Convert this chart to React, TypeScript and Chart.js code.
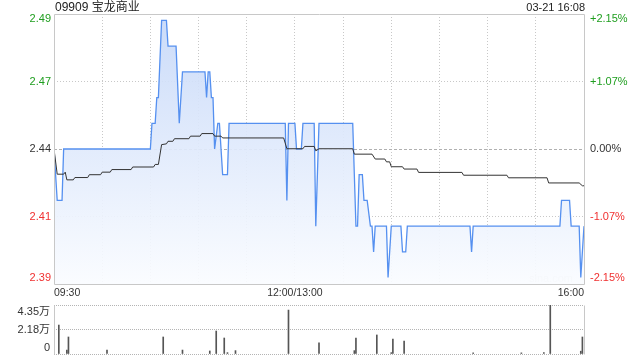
import React, { useEffect, useRef } from 'react';
import { Chart, registerables } from 'chart.js';

Chart.register(...registerables);

const FONT = '"Liberation Sans", Arial, "Noto Sans CJK SC", sans-serif';
const GREEN = '#1f9e1f';
const RED = '#f03030';
const DARK = '#333333';

const TITLE = '09909 宝龙商业';
const DATE_TEXT = '03-21 16:08';
const WATERMARK = 'sina.com';

// trading minutes since 09:30 (lunch break removed), 0..330
const timeTicks = [0, 30, 60, 90, 120, 150, 180, 210, 240, 270, 300, 330];
const timeLabels = ['09:30', '', '', '', '', '12:00/13:00', '', '', '', '', '', '16:00'];

const priceTickValues = [2.3875, 2.41375, 2.44, 2.46625, 2.4925];
const priceTickLabels = ['2.39', '2.41', '2.44', '2.47', '2.49'];
const pctTickLabels = ['-2.15%', '-1.07%', '0.00%', '+1.07%', '+2.15%'];

const priceMinutes = [
  0, 2, 5, 6, 60, 61, 63, 64, 65, 67, 70, 71, 76, 78, 80, 94, 95, 96, 97, 98, 99, 100,
  102, 103, 105, 108, 109, 144, 145, 146, 150, 151, 154, 155, 162, 163, 165, 186, 188,
  189, 190, 192, 193, 195, 197, 198, 199, 200, 207, 208, 210, 216, 217, 219, 220, 259,
  260, 261, 315, 316, 321, 322, 327, 328, 330,
];
const priceValues = [
  2.44, 2.42, 2.42, 2.44, 2.44, 2.45, 2.45, 2.46, 2.46, 2.49, 2.49, 2.48, 2.48, 2.45, 2.47,
  2.47, 2.46, 2.47, 2.47, 2.46, 2.46, 2.44, 2.45, 2.45, 2.43, 2.43, 2.45, 2.45, 2.42, 2.45,
  2.45, 2.44, 2.44, 2.45, 2.45, 2.41, 2.45, 2.45, 2.41, 2.41, 2.43, 2.43, 2.42, 2.42, 2.41,
  2.41, 2.40, 2.41, 2.41, 2.39, 2.41, 2.41, 2.40, 2.40, 2.41, 2.41, 2.40, 2.41, 2.41, 2.42,
  2.42, 2.41, 2.41, 2.39, 2.41,
];

const avgMinutes = [
  0, 2, 6, 7, 8, 12, 13, 21, 22, 29, 30, 35, 36, 48, 49, 62, 63, 65, 67, 70, 71, 74, 75,
  84, 85, 91, 92, 99, 100, 104, 105, 143, 145, 155, 156, 162, 163, 165, 186, 187, 198,
  200, 206, 207, 209, 210, 217, 218, 226, 227, 254, 255, 282, 283, 307, 308, 327, 329, 330,
];
const avgValues = [
  2.44, 2.4302, 2.4302, 2.431, 2.428, 2.428, 2.4289, 2.4289, 2.43, 2.43, 2.431, 2.431,
  2.432, 2.432, 2.433, 2.433, 2.434, 2.434, 2.4417, 2.442, 2.443, 2.443, 2.444, 2.444,
  2.445, 2.445, 2.446, 2.446, 2.445, 2.445, 2.4443, 2.4443, 2.4401, 2.4401, 2.441, 2.441,
  2.4393, 2.4401, 2.4401, 2.438, 2.438, 2.4361, 2.4361, 2.435, 2.435, 2.4331, 2.4331,
  2.4322, 2.4322, 2.4309, 2.4309, 2.4298, 2.4298, 2.4288, 2.4288, 2.4268, 2.4268, 2.4257,
  2.4257,
];

const volMinutes = [
  3, 8, 9, 33, 68, 80, 97, 101, 106, 108, 113, 146, 165, 187, 188, 201, 210, 211, 218,
  261, 291, 305, 309, 328, 329,
];
const volValues = [
  25700, 3500, 15100, 3500, 15100, 3500, 2700, 20400, 14200, 1200, 3000, 39000, 10000,
  3000, 14200, 16900, 1200, 13300, 11500, 1000, 1000, 1200, 43500, 2500, 15100,
];

const volTickValues = [0, 21750, 43500];
const volTickLabels = ['0', '2.18万', '4.35万'];

const TRANSPARENT = 'rgba(0,0,0,0)';

function framePlugin(id: string, sides: { top: boolean; bottom: boolean; left: boolean; right: boolean }) {
  return {
    id,
    afterDraw(chart: any) {
      const { ctx, chartArea: a } = chart;
      ctx.save();
      ctx.strokeStyle = '#c8c8c8';
      ctx.lineWidth = 1;
      ctx.beginPath();
      const l = a.left + 0.5;
      const r = a.right + 0.5;
      const t = a.top + 0.5;
      const b = a.bottom + 0.5;
      if (sides.top) { ctx.moveTo(l, t); ctx.lineTo(r, t); }
      if (sides.bottom) { ctx.moveTo(l, b); ctx.lineTo(r, b); }
      if (sides.left) { ctx.moveTo(l, t); ctx.lineTo(l, b); }
      if (sides.right) { ctx.moveTo(r, t); ctx.lineTo(r, b); }
      ctx.stroke();
      ctx.restore();
    },
  };
}

const textPlugin = {
  id: 'texts',
  beforeDatasetsDraw(chart: any) {
    const { ctx, chartArea: a } = chart;
    ctx.save();
    ctx.font = `11px ${FONT}`;
    ctx.fillStyle = '#d6d6d6';
    ctx.textAlign = 'right';
    ctx.textBaseline = 'alphabetic';
    ctx.fillText(WATERMARK, a.right - 11, a.bottom - 2);
    ctx.restore();
  },
  afterDraw(chart: any) {
    const { ctx, chartArea: a } = chart;
    ctx.save();
    ctx.fillStyle = '#222';
    ctx.textBaseline = 'middle';
    ctx.textAlign = 'left';
    ctx.font = `12px ${FONT}`;
    ctx.fillText(TITLE, a.left + 1, 8);
    ctx.textAlign = 'right';
    ctx.font = `11px ${FONT}`;
    ctx.fillText(DATE_TEXT, a.right + 1, 8);
    ctx.restore();
  },
};

function edgeLabel(labels: string[], i: number) {
  const last = labels.length - 1;
  if (i === 0) return [labels[i], ''];
  if (i === last) return ['', labels[i]];
  return labels[i];
}

function fixWidth(w: number) {
  return (s: any) => {
    s.width = w;
    s.paddingTop = 0;
    s.paddingBottom = 0;
    s.paddingLeft = 0;
    s.paddingRight = 0;
  };
}

export default function App() {
  const mainRef = useRef<HTMLCanvasElement>(null);
  const volRef = useRef<HTMLCanvasElement>(null);

  useEffect(() => {
    const priceData = priceMinutes.map((m, i) => ({ x: m, y: priceValues[i] }));
    const avgData = avgMinutes.map((m, i) => ({ x: m, y: avgValues[i] }));
    const lastP = priceTickValues.length - 1;

    const priceColor = (c: any) => (c.index <= 1 ? RED : c.index === 2 ? DARK : GREEN);
    const priceFont = (c: any) => ({
      family: FONT,
      size: 11,
      lineHeight: c.index === 0 ? '13px' : c.index === lastP ? '10px' : 1.2,
    });

    const main = new Chart(mainRef.current as HTMLCanvasElement, {
      type: 'line',
      data: {
        datasets: [
          {
            label: 'price',
            data: priceData,
            borderColor: '#5590f0',
            borderWidth: 1.3,
            pointRadius: 0,
            tension: 0,
            fill: 'start',
            order: 2,
            backgroundColor: (c: any) => {
              const { ctx, chartArea } = c.chart;
              if (!chartArea) return TRANSPARENT;
              const g = ctx.createLinearGradient(0, chartArea.top, 0, chartArea.bottom);
              g.addColorStop(0, 'rgba(198,216,248,0.92)');
              g.addColorStop(0.5, 'rgba(224,234,252,0.92)');
              g.addColorStop(1, 'rgba(250,252,255,0.92)');
              return g;
            },
          },
          {
            label: 'avg',
            data: avgData,
            borderColor: '#333',
            borderWidth: 1,
            pointRadius: 0,
            tension: 0,
            fill: false,
            order: 1,
          },
        ],
      },
      options: {
        responsive: false,
        animation: false,
        devicePixelRatio: 1,
        layout: { padding: { top: 14, left: 0, right: 0, bottom: 0 } },
        plugins: { legend: { display: false }, tooltip: { enabled: false } },
        scales: {
          x: {
            type: 'linear',
            min: 0,
            max: 330,
            afterBuildTicks: (s: any) => { s.ticks = timeTicks.map((v) => ({ value: v })); },
            afterFit: (s: any) => {
              s.height = 16;
              s.paddingLeft = 0;
              s.paddingRight = 0;
              s.paddingTop = 0;
              s.paddingBottom = 0;
            },
            grid: {
              drawTicks: false,
              color: (c: any) => (c.index === 0 || c.index === timeTicks.length - 1 ? TRANSPARENT : '#c8c8c8'),
            },
            border: { display: false, dash: [1, 2] },
            ticks: {
              autoSkip: false,
              maxRotation: 0,
              align: 'inner',
              padding: 3,
              color: DARK,
              font: { family: FONT, size: 10.5 },
              callback: (_v: any, i: number) => timeLabels[i],
            },
          },
          y: {
            position: 'left',
            min: priceTickValues[0],
            max: priceTickValues[lastP],
            afterBuildTicks: (s: any) => { s.ticks = priceTickValues.map((v) => ({ value: v })); },
            afterFit: fixWidth(54),
            grid: {
              drawTicks: false,
              color: (c: any) => (c.index === 0 || c.index === lastP ? TRANSPARENT : c.index === 2 ? '#b0b0b0' : '#c8c8c8'),
            },
            border: { display: false, dash: (c: any) => (c.index === 2 ? [3, 2] : [1, 2]) },
            ticks: {
              autoSkip: false,
              padding: 3,
              color: priceColor,
              font: priceFont,
              callback: (_v: any, i: number) => edgeLabel(priceTickLabels, i),
            },
          },
          y1: {
            position: 'right',
            min: priceTickValues[0],
            max: priceTickValues[lastP],
            afterBuildTicks: (s: any) => { s.ticks = priceTickValues.map((v) => ({ value: v })); },
            afterFit: fixWidth(56),
            grid: { drawOnChartArea: false, drawTicks: false },
            border: { display: false },
            ticks: {
              autoSkip: false,
              padding: 6,
              color: priceColor,
              font: priceFont,
              callback: (_v: any, i: number) => edgeLabel(pctTickLabels, i),
            },
          },
        },
      } as any,
      plugins: [framePlugin('mainFrame', { top: true, bottom: true, left: true, right: true }), textPlugin],
    });

    const volData = volMinutes.map((m, i) => ({ x: m, y: volValues[i] }));
    const lastV = volTickValues.length - 1;
    const vol = new Chart(volRef.current as HTMLCanvasElement, {
      type: 'bar',
      data: {
        datasets: [
          {
            label: 'volume',
            data: volData,
            backgroundColor: '#555',
            borderWidth: 0,
            barThickness: 1,
          },
        ],
      },
      options: {
        responsive: false,
        animation: false,
        devicePixelRatio: 1,
        layout: { padding: { top: 5, left: 0, right: 56, bottom: 6 } },
        plugins: { legend: { display: false }, tooltip: { enabled: false } },
        scales: {
          x: { type: 'linear', min: 0, max: 330, display: false, offset: false },
          y: {
            position: 'left',
            min: volTickValues[0],
            max: volTickValues[lastV],
            afterBuildTicks: (s: any) => { s.ticks = volTickValues.map((v) => ({ value: v })); },
            afterFit: fixWidth(54),
            grid: { drawTicks: false, color: '#b4b4b4' },
            border: { display: false, dash: [1, 1] },
            ticks: {
              autoSkip: false,
              padding: 4,
              color: DARK,
              font: (c: any) => ({
                family: FONT,
                size: 11,
                lineHeight: c.index === 0 ? '12px' : c.index === lastV ? '14px' : 1.2,
              }),
              callback: (_v: any, i: number) => edgeLabel(volTickLabels, i),
            },
          },
        },
      } as any,
      plugins: [framePlugin('volFrame', { top: false, bottom: false, left: true, right: true })],
    });

    return () => {
      main.destroy();
      vol.destroy();
    };
  }, []);

  return (
    <div style={{ position: 'fixed', left: 0, top: 0, width: 640, height: 360, background: '#fff' }}>
      <canvas ref={mainRef} width={640} height={300} style={{ position: 'absolute', left: 0, top: 0, display: 'block' }} />
      <canvas ref={volRef} width={640} height={60} style={{ position: 'absolute', left: 0, top: 300, display: 'block' }} />
    </div>
  );
}
